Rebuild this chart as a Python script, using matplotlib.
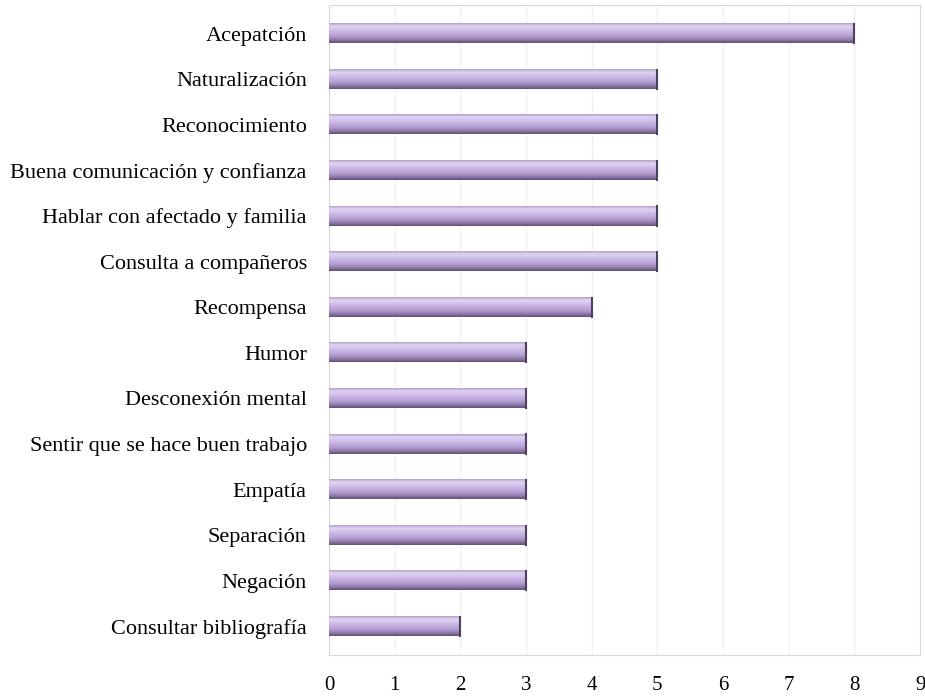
import matplotlib.pyplot as plt
import numpy as np
from matplotlib.colors import LinearSegmentedColormap

categories = ['Acepatción', 'Naturalización', 'Reconocimiento', 'Buena comunicación y confianza',
              'Hablar con afectado y familia', 'Consulta a compañeros', 'Recompensa', 'Humor',
              'Desconexión mental', 'Sentir que se hace buen trabajo', 'Empatía', 'Separación',
              'Negación', 'Consultar bibliografía']
values = [8, 5, 5, 5, 5, 5, 4, 3, 3, 3, 3, 3, 3, 2]
xticks = [0, 1, 2, 3, 4, 5, 6, 7, 8, 9]

plt.rcParams['font.family'] = ['Liberation Serif', 'DejaVu Serif']

fig = plt.figure(figsize=(9.25, 6.96), dpi=100)
ax = fig.add_axes([0.3557, 0.0589, 0.639, 0.934])

# degradado vertical para simular barras cilíndricas (arriba claro, abajo oscuro)
cmap = LinearSegmentedColormap.from_list('lila', [
    (0.0, '#b3a1c9'), (0.15, '#e2d6f3'), (0.35, '#cfbde8'),
    (0.65, '#b59fd2'), (0.85, '#8e79a8'), (1.0, '#5f4f73')])
grad = np.linspace(0, 1, 64).reshape(-1, 1)

h = 0.42
y = np.arange(len(categories))
bars = ax.barh(y, values, height=h, color='none', edgecolor='none')
for b in bars:
    x0, y0 = b.get_x(), b.get_y()
    w, hh = b.get_width(), b.get_height()
    ax.imshow(grad, cmap=cmap, aspect='auto', origin='upper',
              extent=(x0, x0 + w, y0 + hh, y0), zorder=3, interpolation='bicubic')
    ax.plot([x0 + w, x0 + w], [y0, y0 + hh], color='#4d4060', lw=1.5, zorder=4)

ax.set_xlim(0, 9)
ax.set_ylim(len(categories) - 0.37, -0.63)
ax.set_yticks(y)
ax.set_yticklabels(categories, fontsize=16)
ax.set_xticks(xticks)
ax.set_xticklabels([str(t) for t in xticks], fontsize=15)
ax.tick_params(axis='y', length=0, pad=16)
ax.tick_params(axis='x', length=0, pad=15)
ax.grid(axis='x', color='#f2f2f2', lw=1, zorder=0)
for s in ax.spines.values():
    s.set_color('#d9d9d9')
ax.set_axisbelow(True)

fig.savefig('out.png', dpi=100)
